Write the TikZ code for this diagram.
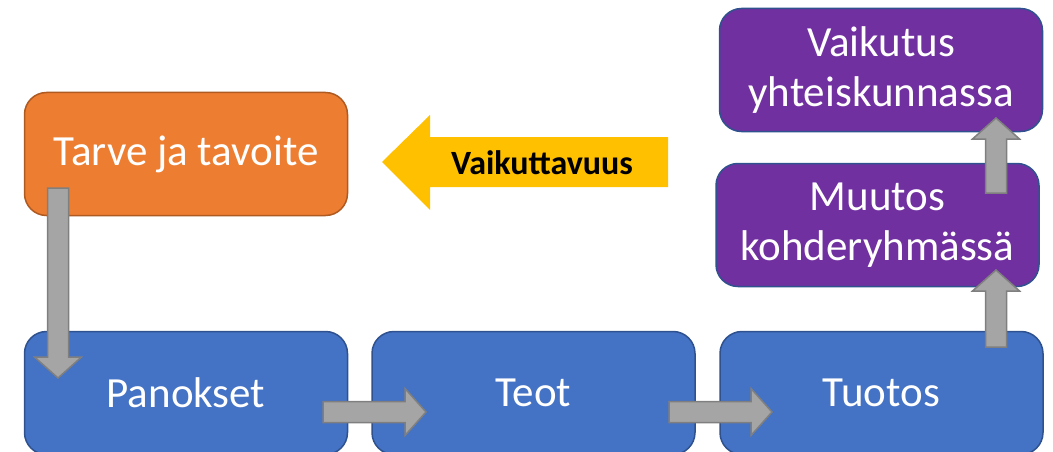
\documentclass[tikz,border=0pt]{standalone}
\usepackage{fontspec}
\setmainfont{Carlito}
\usetikzlibrary{calc}

\definecolor{tarvefill}{HTML}{ED7D31}
\definecolor{tarveline}{HTML}{AE5A21}
\definecolor{stagefill}{HTML}{4472C4}
\definecolor{stageline}{HTML}{2F528F}
\definecolor{effectfill}{HTML}{7030A0}
\definecolor{arrowfill}{HTML}{A5A5A5}
\definecolor{arrowline}{HTML}{7F7F7F}
\definecolor{yellowfill}{HTML}{FFC000}

\tikzset{
  stage/.style={draw=stageline, fill=stagefill, line width=1.5pt, rounded corners=22pt,
    minimum width=323pt, minimum height=123pt, inner sep=0pt, align=center,
    text=white, font=\fontsize{43}{50}\selectfont},
  fatarrow/.style={draw=arrowline, fill=arrowfill, line width=1.5pt, to path={
    ($(\tikztostart)!10.5pt!90:(\tikztotarget)$)
    -- ($($(\tikztotarget)!21pt!(\tikztostart)$)!10.5pt!90:(\tikztotarget)$)
    -- ($($(\tikztotarget)!21pt!(\tikztostart)$)!23.5pt!90:(\tikztotarget)$)
    -- (\tikztotarget)
    -- ($($(\tikztotarget)!21pt!(\tikztostart)$)!23.5pt!-90:(\tikztotarget)$)
    -- ($($(\tikztotarget)!21pt!(\tikztostart)$)!10.5pt!-90:(\tikztotarget)$)
    -- ($(\tikztostart)!10.5pt!-90:(\tikztotarget)$)
    -- cycle}}
}

\begin{document}
\begin{tikzpicture}[x=1pt, y=1pt]
    \useasboundingbox (0,0) rectangle (1053,451);

    \node[stage, draw=tarveline, fill=tarvefill] (tarve) at (186,297) {Tarve ja tavoite};
    \node[stage] (panokset) at (186,58) {Panokset};
    \node[stage] (teot) at (533.5,58) {Teot};
    \node[stage] (tuotos) at (881.5,58) {Tuotos};
    \node[stage, fill=effectfill] (muutos) at (877.5,226) {Muutos\\kohderyhmässä};
    \node[stage, fill=effectfill] (vaikutus) at (881,381) {Vaikutus\\yhteiskunnassa};

    % big yellow arrow
    \fill[yellowfill] (668,314) -- (430,314) -- (430,336) -- (382,289)
        -- (430,241) -- (430,264) -- (668,264) -- cycle;
    \node[font=\fontsize{34}{40}\selectfont\bfseries] (vaikuttavuus) at (542,288) {Vaikuttavuus};

    \coordinate (a1s) at (58,263);
    \coordinate (a1e) at (58,73);
    \coordinate (a2s) at (323,39);
    \coordinate (a2e) at (426,39);
    \coordinate (a3s) at (669,39);
    \coordinate (a3e) at (772,39);
    \coordinate (a4s) at (996,104);
    \coordinate (a4e) at (996,181);
    \coordinate (a5s) at (996,258);
    \coordinate (a5e) at (996,333);

    \draw[fatarrow] (a1s) to (a1e);
    \draw[fatarrow] (a2s) to (a2e);
    \draw[fatarrow] (a3s) to (a3e);
    \draw[fatarrow] (a4s) to (a4e);
    \draw[fatarrow] (a5s) to (a5e);
\end{tikzpicture}
\end{document}
